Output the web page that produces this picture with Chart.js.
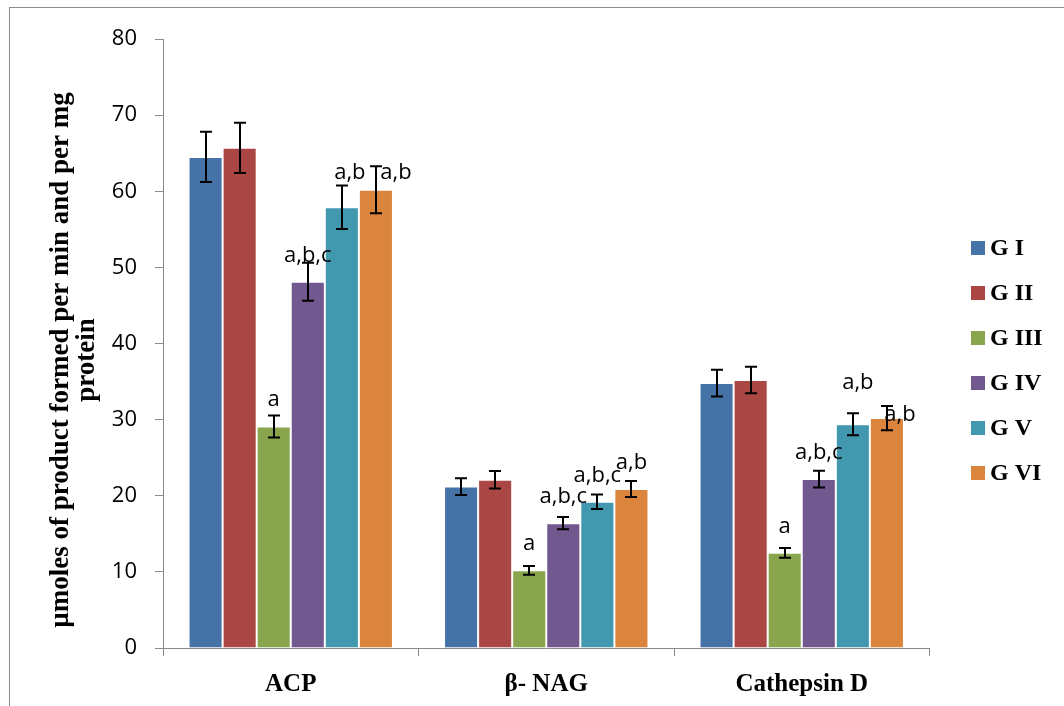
<!DOCTYPE html>
<html><head><meta charset="utf-8">
<script src="https://cdn.jsdelivr.net/npm/chart.js@4"></script>
<style>
html,body{margin:0;padding:0;background:#fff;}
#wrap{position:relative;width:1064px;height:706px;overflow:hidden;background:#fff;}
#frame{position:absolute;left:9px;top:7px;width:1100px;height:800px;border-left:1px solid #8c8c8c;border-top:1px solid #8c8c8c;}
canvas{position:absolute;left:0;top:0;}
</style></head><body>
<div id="wrap"><div id="frame"></div><canvas id="c" width="1064" height="706"></canvas></div>
<script>
// ---- data ----
const categories = ['ACP', 'β- NAG', 'Cathepsin D'];
const groupNames = ['G I', 'G II', 'G III', 'G IV', 'G V', 'G VI'];
const yTitle = ['µmoles of product formed per min and per mg', 'protein'];
const yTickMin = 0, yTickMax = 80, yTickStep = 10;

const gI   = [64.5, 21.2, 34.8];
const gII  = [65.7, 22.1, 35.2];
const gIII = [29.1, 10.2, 12.5];
const gIV  = [48.1, 16.4, 22.2];
const gV   = [57.9, 19.2, 29.4];
const gVI  = [60.2, 20.9, 30.2];

const errI   = [3.3, 1.1, 1.75];
const errII  = [3.3, 1.15, 1.75];
const errIII = [1.45, 0.57, 0.65];
const errIV  = [2.5, 0.8, 1.1];
const errV   = [2.85, 0.95, 1.45];
const errVI  = [3.1, 1.05, 1.6];

// significance letters and the value level at which each is written
const sigI   = ['', '', ''];
const sigII  = ['', '', ''];
const sigIII = ['a', 'a', 'a'];
const sigIV  = ['a,b,c', 'a,b,c', 'a,b,c'];
const sigV   = ['a,b', 'a,b,c', 'a,b'];
const sigVI  = ['a,b', 'a,b', 'a,b'];
const sigAtIII = [32.6, 13.6, 15.85];
const sigAtIV  = [51.55, 19.8, 25.65];
const sigAtV   = [62.35, 22.6, 34.8];
const sigAtVI  = [62.35, 24.3, 30.6];

// ---- styles ----
const colors = ['#4572A7', '#AA4643', '#89A54E', '#71588F', '#4198AF', '#DB843D'];
const sigShift = [[0,0,0],[0,0,0],[0,0,0],[0,0,0],[8,0,5],[20,0,13]];
const values = [gI, gII, gIII, gIV, gV, gVI];
const errors = [errI, errII, errIII, errIV, errV, errVI];
const sigs = [sigI, sigII, sigIII, sigIV, sigV, sigVI];
const sigAts = [null, null, sigAtIII, sigAtIV, sigAtV, sigAtVI];

const serif = '"Liberation Serif", "Times New Roman", serif';
const sans = '"Open Sans", "Liberation Sans", sans-serif';
const axisGray = '#898989';

const datasets = groupNames.map((name, i) => ({
  label: name,
  data: values[i],
  backgroundColor: colors[i],
  borderColor: 'rgba(255,255,255,0.35)',
  borderWidth: 1,
  errors: errors[i],
  sig: sigs[i],
  sigAt: sigAts[i],
  sigShift: sigShift[i]
}));

const errorBarPlugin = {
  id: 'errorBars',
  afterDatasetsDraw(chart) {
    const ctx = chart.ctx, y = chart.scales.y;
    ctx.save();
    ctx.strokeStyle = '#000';
    ctx.lineWidth = 2;
    chart.data.datasets.forEach((ds, i) => {
      const meta = chart.getDatasetMeta(i);
      meta.data.forEach((el, j) => {
        const v = ds.data[j], e = ds.errors[j];
        const x = Math.round(el.x);
        const yt = y.getPixelForValue(v + e), yb = y.getPixelForValue(v - e);
        ctx.beginPath();
        ctx.moveTo(x, yt); ctx.lineTo(x, yb);
        ctx.moveTo(x - 6, yt); ctx.lineTo(x + 6, yt);
        ctx.moveTo(x - 6, yb); ctx.lineTo(x + 6, yb);
        ctx.stroke();
      });
    });
    ctx.restore();
  }
};

const sigPlugin = {
  id: 'sigLabels',
  afterDatasetsDraw(chart) {
    const ctx = chart.ctx, y = chart.scales.y;
    ctx.save();
    ctx.fillStyle = '#000';
    ctx.font = '22px ' + sans;
    ctx.textAlign = 'center';
    ctx.textBaseline = 'alphabetic';
    chart.data.datasets.forEach((ds, i) => {
      if (!ds.sigAt) return;
      const meta = chart.getDatasetMeta(i);
      meta.data.forEach((el, j) => {
        const t = ds.sig[j];
        if (!t) return;
        ctx.fillText(t, el.x + ds.sigShift[j], y.getPixelForValue(ds.sigAt[j]) + 6);
      });
    });
    ctx.restore();
  }
};

const legendPlugin = {
  id: 'sideLegend',
  afterDraw(chart) {
    const ctx = chart.ctx;
    ctx.save();
    ctx.font = 'bold 24px ' + serif;
    ctx.textBaseline = 'middle';
    ctx.textAlign = 'left';
    chart.data.datasets.forEach((ds, i) => {
      const cy = 248 + i * 45;
      ctx.fillStyle = ds.backgroundColor;
      ctx.fillRect(971, cy - 7, 14, 14);
      ctx.fillStyle = '#000';
      ctx.fillText(ds.label, 990, cy + 1);
    });
    ctx.restore();
  }
};

const yTitlePlugin = {
  id: 'yTitle',
  afterDraw(chart) {
    const ctx = chart.ctx;
    ctx.save();
    ctx.font = 'bold 27px ' + serif;
    ctx.fillStyle = '#000';
    ctx.textAlign = 'center';
    ctx.textBaseline = 'middle';
    yTitle.forEach((line, k) => {
      ctx.save();
      ctx.translate(61 + k * 26, 360);
      ctx.rotate(-Math.PI / 2);
      ctx.fillText(line, 0, 0);
      ctx.restore();
    });
    ctx.restore();
  }
};

new Chart(document.getElementById('c'), {
  type: 'bar',
  data: { labels: categories, datasets },
  options: {
    responsive: false,
    devicePixelRatio: 1,
    animation: false,
    layout: { padding: { left: 10, top: 39, right: 134.5, bottom: 0 } },
    plugins: { legend: { display: false }, tooltip: { enabled: false } },
    datasets: { bar: { categoryPercentage: 0.8, barPercentage: 1.0 } },
    scales: {
      x: {
        grid: { display: true, drawOnChartArea: false, offset: true, tickLength: 8, color: axisGray, lineWidth: 1 },
        border: { color: axisGray, width: 1 },
        ticks: { color: '#000', font: { family: serif, size: 25, weight: 'bold' }, padding: 14 },
        afterFit(s) { s.height = 58; }
      },
      y: {
        min: yTickMin, max: yTickMax,
        ticks: { stepSize: yTickStep, color: '#000', font: { family: sans, size: 22 }, padding: 18 },
        grid: { display: true, drawOnChartArea: false, tickLength: 8, color: axisGray, lineWidth: 1 },
        border: { color: axisGray, width: 1 },
        title: { display: false },
        afterFit(s) { s.width = 153; }
      }
    }
  },
  plugins: [errorBarPlugin, sigPlugin, legendPlugin, yTitlePlugin]
});
</script>
</body></html>
